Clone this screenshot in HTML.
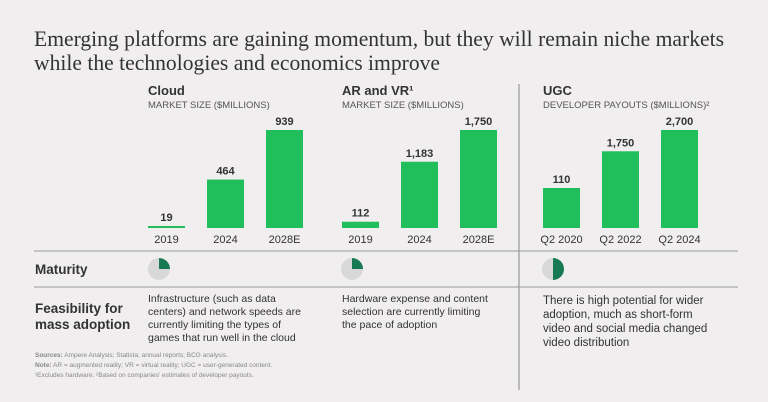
<!DOCTYPE html>
<html><head><meta charset="utf-8">
<style>
html,body{margin:0;padding:0;background:#f0eeee;}
svg{display:block;font-family:"Liberation Sans",sans-serif;}
</style></head>
<body>
<svg id="c" width="768" height="402" viewBox="0 0 768 402">
<rect width="768" height="402" fill="#f0eeee"/>
<g font-family="Liberation Serif, serif" font-size="22" fill="#333">
<text x="34" y="46" textLength="690" lengthAdjust="spacingAndGlyphs">Emerging platforms are gaining momentum, but they will remain niche markets</text>
<text x="34" y="70" textLength="406" lengthAdjust="spacingAndGlyphs">while the technologies and economics improve</text>
</g>
<line x1="519" y1="84" x2="519" y2="390" stroke="#aaa" stroke-width="1.5"/>
<line x1="34" y1="251" x2="738" y2="251" stroke="#999" stroke-width="1"/>
<line x1="34" y1="287" x2="738" y2="287" stroke="#999" stroke-width="1"/>
<text x="35" y="274" font-size="13.5" font-weight="bold" fill="#333">Maturity</text>
<text x="35" y="313" font-size="13.5" font-weight="bold" fill="#333">Feasibility for</text>
<text x="35" y="329" font-size="13.5" font-weight="bold" fill="#333">mass adoption</text>
<g font-size="6.5" fill="#888">
<text x="35" y="357"><tspan font-weight="bold">Sources:</tspan> Ampere Analysis; Statista; annual reports; BCG analysis.</text>
<text x="35" y="367"><tspan font-weight="bold">Note:</tspan> AR = augmented reality; VR = virtual reality; UGC = user-generated content.</text>
<text x="35" y="377">¹Excludes hardware. ²Based on companies' estimates of developer payouts.</text>
</g>
<g id="panels"></g>
</svg>
<script>
const panelTitles = ["Cloud", "AR and VR¹", "UGC"];
const panelSubtitles = ["MARKET SIZE ($MILLIONS)", "MARKET SIZE ($MILLIONS)", "DEVELOPER PAYOUTS ($MILLIONS)²"];
const cloudCategories = ["2019", "2024", "2028E"];
const cloudValues = [19, 464, 939];
const arvrCategories = ["2019", "2024", "2028E"];
const arvrValues = [112, 1183, 1750];
const ugcCategories = ["Q2 2020", "Q2 2022", "Q2 2024"];
const ugcValues = [110, 1750, 2700];
const valueLabels = [["19","464","939"],["112","1,183","1,750"],["110","1,750","2,700"]];
const maturity = [0.25, 0.25, 0.5];
const feasibilityText = [
 ["Infrastructure (such as data","centers) and network speeds are","currently limiting the types of","games that run well in the cloud"],
 ["Hardware expense and content","selection are currently limiting","the pace of adoption"],
 ["There is high potential for wider","adoption, much as short-form","video and social media changed","video distribution"]
];

const NS = "http://www.w3.org/2000/svg";
const root = document.getElementById("panels");
function mk(tag, attrs, parent, text){
  const e = document.createElementNS(NS, tag);
  for (const k in attrs) e.setAttribute(k, attrs[k]);
  if (text !== undefined) e.textContent = text;
  (parent||root).appendChild(e);
  return e;
}
const panelX = [148, 342, 543];
const barW = [37, 37, 37];
const barStep = [59, 59, 59];
const baseY = 228, maxH = 98;
const offsets = [0, 0, 1676];
const cats = [cloudCategories, arvrCategories, ugcCategories];
const vals = [cloudValues, arvrValues, ugcValues];
const pieX = [159, 352, 553];

for (let p = 0; p < 3; p++) {
  const x0 = panelX[p];
  const t = mk("text", {x:x0, y:95, "font-size":13, "font-weight":"bold", fill:"#333"}, root, panelTitles[p]);
  
  
  const s = mk("text", {x:x0, y:108, "font-size":9.5, fill:"#555"}, root, panelSubtitles[p]);
  
  
  const vmax = Math.max(...vals[p]);
  const yScale = v => maxH * (v + offsets[p]) / (vmax + offsets[p]);
  for (let i = 0; i < vals[p].length; i++) {
    const h = Math.max(2, yScale(vals[p][i]));
    const bx = x0 + i * barStep[p];
    const b = mk("rect", {x:bx, y:baseY - h, width:barW[p], height:h, fill:"#21bf5b"});
    
    
    const vl = mk("text", {x:bx + barW[p]/2, y:baseY - h - 5, "font-size":11, "font-weight":"bold", fill:"#333", "text-anchor":"middle"}, root, valueLabels[p][i]);
    
    
    const cl = mk("text", {x:bx + barW[p]/2, y:243, "font-size":11, fill:"#333", "text-anchor":"middle"}, root, cats[p][i]);
    
    
  }
  const cx = pieX[p], cy = 269, r = 11;
  const bg = mk("circle", {cx:cx, cy:cy, r:r, fill:"#d9d8d8"});
  
  
  const a = maturity[p] * 2 * Math.PI;
  const ex = cx + r * Math.sin(a), ey = cy - r * Math.cos(a);
  const large = maturity[p] > 0.5 ? 1 : 0;
  const sl = mk("path", {d:`M${cx},${cy} L${cx},${cy-r} A${r},${r} 0 ${large} 1 ${ex},${ey} Z`, fill:"#187a55"});
  
  
  const fx = panelX[p];
  const fsz = p === 2 ? 11.5 : 10.5;
  const lh = p === 2 ? 14 : 13;
  const g = mk("text", {x:fx, y:302, "font-size":fsz, fill:"#333"});
  
  
  feasibilityText[p].forEach((line, k) => {
    mk("tspan", {x:fx, y:302 + (p===2?2:0) + k*lh}, g, line);
  });
}
</script>
</body></html>
